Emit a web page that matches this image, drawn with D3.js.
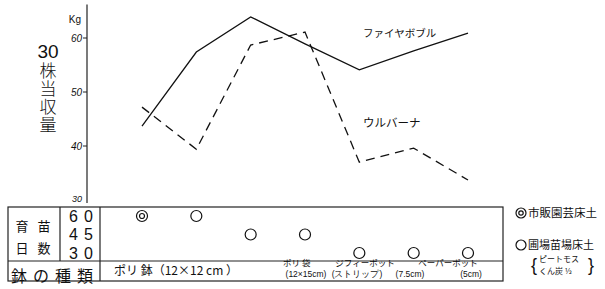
<!DOCTYPE html>
<html>
<head>
<meta charset="utf-8">
<script src="https://cdn.jsdelivr.net/npm/d3@7"></script>
<style>
body { margin: 0; background: #fff; }
svg { display: block; font-family: "Noto Sans CJK JP", "Noto Sans", sans-serif; }
text { fill: #111; }
.latin { font-family: "Liberation Sans", Arial, sans-serif; }
</style>
</head>
<body>
<div class="chart"></div>
<script>
// 鉢の種類ごとの 30株当収量 (kg)
var pots = ["ポリ鉢a", "ポリ鉢b", "ポリ鉢c", "ポリ袋", "ジフィーポット", "ペーパーポット7.5", "ペーパーポット5"];
var fireball = [43.7, 57.4, 63.9, 58.9, 54.1, 57.6, 60.9];
var urbana = [47.2, 39.4, 58.7, 61.1, 37.0, 39.6, 33.7];
var nurseryDays = [60, 60, 45, 45, 30, 30, 30];
var soilKind = ["市販", "自家", "自家", "自家", "自家", "自家", "自家"];
var yTicks = [60, 50, 40];
var dayRows = [60, 45, 30];

var width = 605, height = 289;

var svg = d3.select(".chart").append("svg")
	.attr("width", width)
	.attr("height", height);

var x = d3.scalePoint().domain(pots).range([142, 468]);
var y = d3.scaleLinear().domain([30, 60]).range([200, 38]);
var rowY = d3.scalePoint().domain(dayRows).range([216, 253]);

// y axis
svg.append("line")
	.attr("x1", 87).attr("x2", 87)
	.attr("y1", y(66.2)).attr("y2", 203)
	.attr("stroke", "#222").attr("stroke-width", 1.2);

svg.selectAll(".tick").data(yTicks).enter().append("line")
	.attr("class", "tick")
	.attr("x1", 83).attr("x2", 87)
	.attr("y1", (d) => y(d)).attr("y2", (d) => y(d))
	.attr("stroke", "#222");

svg.selectAll(".tickLabel").data(yTicks).enter().append("text")
	.attr("class", "tickLabel latin")
	.attr("x", 82).attr("y", (d) => y(d))
	.attr("dy", "0.35em")
	.attr("text-anchor", "end")
	.style("font-size", "10px")
	.style("font-style", "italic")
	.text((d) => d);

svg.append("text").attr("class", "latin").attr("x", 81).attr("y", 23).attr("text-anchor", "end")
	.style("font-size", "10px").text("Kg");
svg.append("text").attr("class", "latin").attr("x", 82).attr("y", 202).attr("text-anchor", "end")
	.style("font-size", "9px").style("font-style", "italic").text("30");

// y axis title
svg.append("text").attr("class", "latin")
	.attr("x", 48).attr("y", 58)
	.attr("text-anchor", "middle")
	.style("font-size", "19px")
	.style("font-weight", "300")
	.text("30");
svg.append("text")
	.attr("x", 48).attr("y", 62)
	.style("writing-mode", "vertical-rl")
	.style("font-size", "17px")
	.style("font-weight", "300")
	.style("letter-spacing", "1px")
	.text("株当収量");

// lines
var line = d3.line()
	.x((d, i) => x(pots[i]))
	.y((d) => y(d));

svg.append("path")
	.datum(fireball)
	.attr("d", line)
	.attr("fill", "none")
	.attr("stroke", "#111")
	.attr("stroke-width", 1.3);

svg.append("path")
	.datum(urbana)
	.attr("d", line)
	.attr("fill", "none")
	.attr("stroke", "#111")
	.attr("stroke-width", 1.3)
	.attr("stroke-dasharray", "9,6");

svg.append("text").attr("x", 363).attr("y", 37)
	.style("font-size", "10.5px").text("ファイヤボブル");
svg.append("text").attr("x", 363).attr("y", 127)
	.style("font-size", "11.5px").text("ウルバーナ");

// table
var tbl = svg.append("g").attr("stroke", "#222").attr("stroke-width", 1.2);
tbl.append("rect").attr("x", 8).attr("y", 207).attr("width", 495).attr("height", 74).attr("fill", "none");
tbl.append("line").attr("x1", 8).attr("x2", 503).attr("y1", 261).attr("y2", 261);
tbl.append("line").attr("x1", 60).attr("x2", 60).attr("y1", 207).attr("y2", 261);
tbl.append("line").attr("x1", 100).attr("x2", 100).attr("y1", 207).attr("y2", 281);

var hdr = [{t: "育", x: 22, y: 226}, {t: "苗", x: 44, y: 226}, {t: "日", x: 22, y: 248}, {t: "数", x: 44, y: 248}];
svg.selectAll(".hdr").data(hdr).enter().append("text")
	.attr("class", "hdr")
	.attr("x", (d) => d.x).attr("y", (d) => d.y)
	.attr("dy", "0.35em").attr("text-anchor", "middle")
	.style("font-size", "13px").text((d) => d.t);

svg.selectAll(".dayLabel").data(dayRows).enter().append("text")
	.attr("class", "dayLabel latin")
	.attr("x", 84).attr("y", (d) => rowY(d))
	.attr("dy", "0.35em").attr("text-anchor", "middle")
	.style("font-size", "16px")
	.style("font-weight", "300")
	.style("letter-spacing", "6px")
	.text((d) => d);

svg.append("text").attr("x", 55).attr("y", 276)
	.attr("dy", "0.35em").attr("text-anchor", "middle")
	.style("font-size", "16px").style("letter-spacing", "6px")
	.text("鉢の種類");

// nursery-day markers
var marks = svg.selectAll(".mark").data(pots).enter().append("g")
	.attr("class", "mark")
	.attr("transform", (d, i) => "translate(" + x(d) + "," + rowY(nurseryDays[i]) + ")");
marks.append("circle").attr("r", 5.5)
	.attr("fill", "none").attr("stroke", "#111").attr("stroke-width", 1.2);
marks.filter((d, i) => soilKind[i] == "市販").append("circle").attr("r", 2.5)
	.attr("fill", "none").attr("stroke", "#111").attr("stroke-width", 1.2);

// pot type labels
var potLabels = [
	{t: "ポリ 鉢（12×12 cm ）", x: 114, y: 271, s: 12, a: "start", c: ""},
	{t: "ポリ 袋", x: 283, y: 263, s: 8.5, a: "start", c: ""},
	{t: "(12×15cm)", x: 306, y: 274, s: 8.5, a: "middle", c: "latin"},
	{t: "ジフィーポット", x: 365, y: 263, s: 8.5, a: "middle", c: ""},
	{t: "(ストリップ)", x: 357, y: 274, s: 8.5, a: "middle", c: "latin"},
	{t: "ペーパーポット", x: 448, y: 263, s: 8.5, a: "middle", c: ""},
	{t: "(7.5cm)", x: 410, y: 274, s: 8.5, a: "middle", c: "latin"},
	{t: "(5cm)", x: 471, y: 274, s: 8.5, a: "middle", c: "latin"}
];
svg.selectAll(".potLabel").data(potLabels).enter().append("text")
	.attr("class", (d) => "potLabel " + d.c)
	.attr("x", (d) => d.x).attr("y", (d) => d.y)
	.attr("dy", "0.35em").attr("text-anchor", (d) => d.a)
	.style("font-size", (d) => d.s + "px")
	.text((d) => d.t);

// legend
var lg = svg.append("g");
lg.append("circle").attr("cx", 521).attr("cy", 213).attr("r", 5)
	.attr("fill", "none").attr("stroke", "#111").attr("stroke-width", 1.2);
lg.append("circle").attr("cx", 521).attr("cy", 213).attr("r", 2.2)
	.attr("fill", "none").attr("stroke", "#111").attr("stroke-width", 1.2);
lg.append("text").attr("x", 528).attr("y", 213).attr("dy", "0.35em")
	.style("font-size", "11.5px").text("市販園芸床土");
lg.append("circle").attr("cx", 521).attr("cy", 245).attr("r", 5)
	.attr("fill", "none").attr("stroke", "#111").attr("stroke-width", 1.2);
lg.append("text").attr("x", 528).attr("y", 245).attr("dy", "0.35em")
	.style("font-size", "11px").text("圃場苗場床土");
lg.append("text").attr("class", "latin").attr("x", 531).attr("y", 265).attr("dy", "0.35em")
	.style("font-size", "18px").text("{");
lg.append("text").attr("x", 539).attr("y", 259).attr("dy", "0.35em")
	.style("font-size", "8px").text("ピートモス");
lg.append("text").attr("x", 539).attr("y", 271).attr("dy", "0.35em")
	.style("font-size", "8px").text("くん炭 ½");
lg.append("text").attr("class", "latin").attr("x", 588).attr("y", 265).attr("dy", "0.35em")
	.style("font-size", "18px").text("}");
</script>
</body>
</html>
